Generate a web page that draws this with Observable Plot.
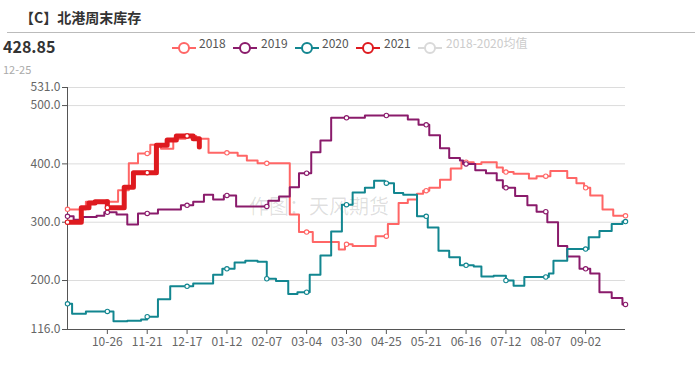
<!DOCTYPE html>
<html><head><meta charset="utf-8">
<script src="https://cdn.jsdelivr.net/npm/d3@7"></script>
<script src="https://cdn.jsdelivr.net/npm/@observablehq/plot@0.6"></script>
<style>
body{margin:0;background:#fff;font-family:"Noto Sans CJK SC","Noto Sans",sans-serif;}
#wrap{position:relative;width:700px;height:367px;overflow:hidden;background:#fff;}
.abs{position:absolute;white-space:nowrap;}
#chart{position:absolute;left:0;top:0;}
</style></head><body>
<div id="wrap"></div>
<script>
// ---------- data ----------
const title = "【C】北港周末库存";
const latestValue = "428.85";
const latestDate = "12-25";
const watermark = "作图：天风期货";
const seriesNames = ["2018", "2019", "2020", "2021", "2018-2020均值"];
const xTicks = ["10-26","11-21","12-17","01-12","02-07","03-04","03-30","04-25","05-21","06-16","07-12","08-07","09-02"];
const yTicks = [116, 200, 300, 400, 500, 531];
const xStart = "09-30", xEnd = "09-28";

const dates2018 = ["09-30","10-12","11-02","11-09","11-15","11-23","11-30","12-08","12-16","12-23","12-31","01-19","01-25","02-01","02-22","02-28","03-08","03-25","03-29","04-03","04-18","04-26","05-03","05-09","05-15","05-19","05-23","05-30","06-06","06-13","06-21","06-26","07-06","07-10","07-17","07-27","08-01","08-10","08-21","08-27","09-01","09-05","09-13","09-20","09-28"];
const values2018 = [322,335,355,401,418,433,426,443,448,443,419,414,406,401,313,283,266,253,262,259,276,297,333,339,349,354,359,373,392,403,400,403,394,386,383,375,379,388,376,367,359,346,322,311,311];

const dates2019 = ["09-30","10-04","10-10","10-19","10-24","11-01","11-08","11-15","11-28","12-13","12-21","12-28","01-03","01-10","01-18","02-08","02-15","02-22","02-28","03-07","03-13","03-20","04-11","05-09","05-16","05-23","05-30","06-05","06-12","06-14","06-22","06-29","07-06","07-10","07-18","07-26","08-01","08-08","08-15","08-21","08-29","09-05","09-11","09-19","09-26","09-28"];
const values2019 = [310,304,309,311,317,313,296,315,322,329,335,347,339,346,327,337,344,360,384,420,440,479,483,476,467,449,427,410,406,400,389,384,372,359,345,329,318,300,259,241,220,212,180,170,159,159];

const dates2020 = ["09-30","10-03","10-12","10-30","11-08","11-17","11-21","11-28","12-06","12-21","01-03","01-09","01-17","01-24","02-01","02-07","02-13","02-21","02-27","03-06","03-13","03-20","03-27","04-03","04-11","04-17","04-24","04-30","05-06","05-15","05-22","05-29","06-05","06-12","06-21","06-26","07-04","07-12","07-17","07-24","08-09","08-12","08-21","09-04","09-11","09-19","09-26","09-28"];
const values2020 = [160,143,147,130,131,133,138,168,190,195,210,220,231,234,232,203,199,177,180,210,243,284,330,351,359,371,367,350,347,310,291,251,240,226,224,207,208,200,191,206,212,234,254,274,285,297,301,301];

const dates2021 = ["09-30","10-09","10-14","10-18","10-26","11-06","11-12","11-27","12-04","12-10","12-21","12-25"];
const values2021 = [300,325,333,335,325,360,385,432,441,448,443,428.85];

const colors = ["#ff6666", "#8a1b6b", "#128690", "#de1a1f", "#d9d9d9"];

// ---------- helpers ----------
const parse = md => new Date(Date.UTC(md >= "09-30" ? 2019 : 2020, +md.slice(0, 2) - 1, +md.slice(3)));
const series = [
  {name: seriesNames[0], dates: dates2018, values: values2018, color: colors[0], width: 2, endMark: true},
  {name: seriesNames[1], dates: dates2019, values: values2019, color: colors[1], width: 2, endMark: true},
  {name: seriesNames[2], dates: dates2020, values: values2020, color: colors[2], width: 2, endMark: true},
  {name: seriesNames[3], dates: dates2021, values: values2021, color: colors[3], width: 5, endMark: false}
];
const stepAt = (s, d) => {
  let v = null;
  s.dates.forEach((md, i) => { if (parse(md) <= d) v = s.values[i]; });
  return v;
};
const markDates = [xStart, ...xTicks].map(parse);

const marks = [
  Plot.gridY(yTicks.filter(t => t > yTicks[0]), {stroke: "#dcdcdc", strokeOpacity: 1}),
  Plot.axisY({ticks: yTicks, tickFormat: d3.format(".1f"), tickSize: 5, tickPadding: 2, label: null, fill: "#666", stroke: "#555"}),
  Plot.axisX({ticks: xTicks.map(parse), tickFormat: d3.utcFormat("%m-%d"), tickSize: 5, tickPadding: 3, label: null, fill: "#666", stroke: "#555"}),
  Plot.ruleX([parse(xStart)], {stroke: "#555"}),
  Plot.ruleY([yTicks[0]], {stroke: "#555"})
];
for (const s of series) {
  const rows = s.dates.map((md, i) => ({date: parse(md), value: s.values[i]}));
  marks.push(Plot.line(rows, {x: "date", y: "value", stroke: s.color, strokeWidth: s.width, curve: "step-after", strokeLinejoin: "round"}));
  const last = rows[rows.length - 1].date;
  let md = markDates.filter(d => d <= last);
  if (s.endMark) md = md.concat([last]);
  const pts = md.map(d => ({date: d, value: stepAt(s, d)}));
  marks.push(Plot.dot(pts, {x: "date", y: "value", r: 2.2, fill: "white", stroke: s.color, strokeWidth: 1.1}));
}

const chart = Plot.plot({
  width: 700, height: 367,
  marginTop: 87, marginBottom: 38, marginLeft: 67, marginRight: 75,
  style: {fontSize: "12px", fontFamily: "'Noto Sans CJK SC','Noto Sans',sans-serif", background: "transparent", overflow: "visible"},
  x: {type: "utc", domain: [parse(xStart), parse(xEnd)]},
  y: {domain: [yTicks[0], yTicks[yTicks.length - 1]]},
  marks
});
chart.id = "chart";

// ---------- layout ----------
const wrap = document.getElementById("wrap");
function addDiv(text, css) {
  const d = document.createElement("div");
  d.className = "abs";
  d.textContent = text;
  Object.assign(d.style, css);
  wrap.appendChild(d);
  return d;
}
addDiv(watermark, {left: "249px", top: "193px", fontSize: "20px", color: "rgba(0,0,0,0.13)", lineHeight: "26px"});
wrap.appendChild(chart);
addDiv(title, {left: "20px", top: "7px", fontSize: "14px", fontWeight: "600", color: "#333", lineHeight: "20px"});
const hr = document.createElement("div");
hr.className = "abs";
Object.assign(hr.style, {left: "7px", top: "32px", width: "688px", height: "0", borderTop: "1px solid #bbb"});
wrap.appendChild(hr);
addDiv(latestValue, {left: "3px", top: "35px", fontSize: "16px", fontWeight: "700", color: "#333", lineHeight: "22px"});
addDiv(latestDate, {left: "3px", top: "61px", fontSize: "11px", color: "#aaa", lineHeight: "16px"});

const legendIconX = [172, 233, 295, 356, 418];
const legendTextX = [199, 261, 322, 384, 446];
seriesNames.forEach((name, i) => {
  const c = colors[i];
  const icon = document.createElement("div");
  icon.className = "abs";
  Object.assign(icon.style, {left: legendIconX[i] + "px", top: "36px"});
  icon.innerHTML = `<svg width="24" height="14"><line x1="0" y1="7" x2="24" y2="7" stroke="${c}" stroke-width="2"/><circle cx="12" cy="7" r="5" fill="white" stroke="${c}" stroke-width="2"/></svg>`;
  wrap.appendChild(icon);
  addDiv(name, {left: legendTextX[i] + "px", top: "34px", fontSize: "12px", lineHeight: "18px", color: i === 4 ? "#ccc" : "#555"});
});
</script></body></html>
